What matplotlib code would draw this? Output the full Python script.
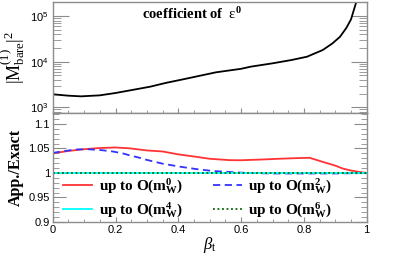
import numpy as np
import matplotlib
matplotlib.use("Agg")
import matplotlib.pyplot as plt
from matplotlib.ticker import MultipleLocator, LogLocator, FixedLocator, FuncFormatter, NullFormatter

plt.rcParams['mathtext.fontset'] = 'custom'
plt.rcParams['mathtext.rm'] = 'Liberation Serif'
plt.rcParams['mathtext.it'] = 'Liberation Serif:italic'
plt.rcParams['mathtext.bf'] = 'Liberation Serif:bold'
plt.rcParams['mathtext.sf'] = 'Liberation Sans'

# ---- data ----
beta_top = [0.0, 0.05, 0.09, 0.15, 0.2, 0.25, 0.31, 0.36, 0.415, 0.47, 0.52, 0.6, 0.63, 0.7, 0.76, 0.81, 0.86, 0.89, 0.915, 0.935, 0.95, 0.967, 0.98]
m2_bare = [1930, 1800, 1740, 1830, 2060, 2380, 2830, 3430, 4110, 4950, 5860, 7000, 7780, 9230, 10900, 12900, 18100, 25000, 35300, 55000, 85000, 207000, 500000]

beta_ratio = [0.0, 0.05, 0.1, 0.15, 0.18, 0.2, 0.245, 0.3, 0.35, 0.4, 0.457, 0.5, 0.564, 0.6, 0.67, 0.72, 0.776, 0.818, 0.86, 0.9, 0.924, 0.95, 0.977, 1.0]
ratio_m0 = [1.040, 1.045, 1.0485, 1.051, 1.0516, 1.052, 1.0503, 1.046, 1.0439, 1.038, 1.033, 1.029, 1.0262, 1.026, 1.0276, 1.029, 1.0303, 1.031, 1.0227, 1.015, 1.009, 1.005, 1.002, 1.0]

beta_m2 = [0.0, 0.04, 0.075, 0.11, 0.15, 0.19, 0.223, 0.245, 0.277, 0.298, 0.35, 0.404, 0.457, 0.51, 0.564, 0.62, 0.7, 0.8, 0.9, 0.95, 1.0]
ratio_m2 = [1.041, 1.045, 1.048, 1.0485, 1.047, 1.044, 1.040, 1.036, 1.031, 1.027, 1.019, 1.013, 1.008, 1.004, 1.002, 1.0, 0.999, 0.999, 0.999, 0.9995, 1.0]

beta_flat = [0.0, 1.0]
ratio_m4 = [1.0, 1.0]
ratio_m6 = [1.0, 1.0]

x_ticks = [0, 0.2, 0.4, 0.6, 0.8, 1]
x_ticklabels = ["0", "0.2", "0.4", "0.6", "0.8", "1"]
ratio_ticks = [0.9, 0.95, 1.0, 1.05, 1.1]
ratio_ticklabels = ["0.9", "0.95", "1", "1.05", "1.1"]

W, H = 407, 256
fig = plt.figure(figsize=(W / 100, H / 100), dpi=100)
left, right = 52.7 / W, 366.7 / W
y_top, y_mid, y_bot = 1.5, 113.0, 222.0
ax1 = fig.add_axes([left, 1 - y_mid / H, right - left, (y_mid - y_top) / H])
ax2 = fig.add_axes([left, 1 - y_bot / H, right - left, (y_bot - y_mid) / H])

frame_col = '#8c8c8c'
for ax in (ax1, ax2):
    for s in ax.spines.values():
        s.set_color(frame_col)
        s.set_linewidth(1.0)
    ax.set_xlim(0, 1)

# ---- top panel ----
ax1.plot(beta_top, m2_bare, color='black', lw=1.3)
ax1.set_yscale('log')
ax1.set_ylim(750, 2.1e5)
ax1.yaxis.set_major_locator(LogLocator(base=10, numticks=10))
ax1.yaxis.set_minor_locator(LogLocator(base=10, subs=np.arange(2, 10), numticks=20))
ax1.yaxis.set_major_formatter(FuncFormatter(lambda v, p: r'$\mathsf{10^{%d}}$' % round(np.log10(v))))
ax1.yaxis.set_minor_formatter(NullFormatter())
ax1.xaxis.set_major_locator(MultipleLocator(0.2))
ax1.xaxis.set_minor_locator(MultipleLocator(0.05))
ax1.tick_params(axis='x', which='both', direction='in', bottom=True, top=False, labelbottom=False, color=frame_col)
ax1.tick_params(axis='x', which='major', length=3.5)
ax1.tick_params(axis='x', which='minor', length=2)
ax1.tick_params(axis='y', which='both', direction='in', left=True, right=True, color=frame_col, labelsize=8, pad=3)
ax1.tick_params(axis='y', which='major', length=11.5)
ax1.tick_params(axis='y', which='minor', length=5.5)
ax1.set_ylabel(r'$|\mathrm{M}^{(1)}_{\mathrm{bare}}|^{2}$', fontsize=13, labelpad=2)
ax1.text(0.285, 0.885, r'$\mathbf{coefficient\ of}\ \ \mathrm{\varepsilon}^{\mathbf{0}}$', fontsize=10.5,
         transform=ax1.transAxes, ha='left', va='center')

# ---- bottom panel ----
l0, = ax2.plot(beta_ratio, ratio_m0, color='#ff3333', lw=1.3, label=r'$\mathbf{up\ to\ O(m_{W}^{0})}$')
l2, = ax2.plot(beta_m2, ratio_m2, color='#3333ff', lw=1.3, ls=(0, (4, 2.5)), label=r'$\mathbf{up\ to\ O(m_{W}^{2})}$')
l4, = ax2.plot(beta_flat, ratio_m4, color='#00ffff', lw=1.3, label=r'$\mathbf{up\ to\ O(m_{W}^{4})}$')
l6, = ax2.plot(beta_flat, ratio_m6, color='#006400', lw=1.3, ls=(0, (1, 1.5)), label=r'$\mathbf{up\ to\ O(m_{W}^{6})}$')
ax2.set_ylim(0.9, 1.1224)
ax2.yaxis.set_major_locator(FixedLocator(ratio_ticks))
ax2.set_yticklabels(ratio_ticklabels, fontfamily='Liberation Sans', fontsize=8)
ax2.yaxis.set_minor_locator(MultipleLocator(0.01))
ax2.xaxis.set_major_locator(FixedLocator(x_ticks))
ax2.set_xticklabels(x_ticklabels, fontfamily='Liberation Sans', fontsize=8)
ax2.xaxis.set_minor_locator(MultipleLocator(0.05))
ax2.tick_params(axis='x', which='both', direction='in', bottom=True, top=False, color=frame_col, pad=2)
ax2.tick_params(axis='x', which='major', length=3.5)
ax2.tick_params(axis='x', which='minor', length=2)
ax2.tick_params(axis='y', which='both', direction='in', left=True, right=True, color=frame_col, pad=2)
ax2.tick_params(axis='y', which='major', length=9.5)
ax2.tick_params(axis='y', which='minor', length=4.5)
ax2.set_ylabel('App./Exact', fontfamily='Liberation Serif', fontweight='bold', fontsize=11.5, labelpad=3)
ax2.set_xlabel(r'$\beta_{\mathrm{t}}$', fontsize=12, labelpad=0)

ax2.legend(handles=[l0, l4, l2, l6], ncol=2, loc='lower left', bbox_to_anchor=(0.005, -0.065),
           frameon=False, fontsize=11, handlelength=1.9, handletextpad=0.4, columnspacing=2.0,
           labelspacing=0.3, borderaxespad=0.2)

fig.savefig('out.png', dpi=100)
